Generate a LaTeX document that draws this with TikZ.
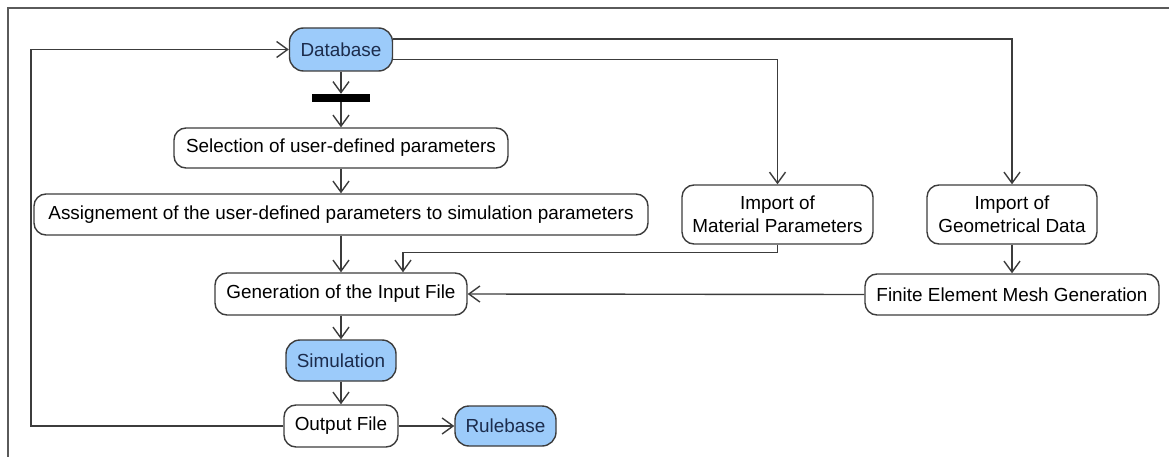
\documentclass[tikz,border=0pt]{standalone}
\usepackage{fontspec}
\setmainfont{Liberation Sans}
\usetikzlibrary{arrows.meta}
\definecolor{edge}{HTML}{3C3C3C}
\definecolor{bluefill}{HTML}{9CCBFA}
\definecolor{navytext}{HTML}{1C2C4C}
\definecolor{framecol}{HTML}{5A5A5A}
\tikzset{
  x=1pt, y=-1pt,
  act/.style={draw=edge, line width=1.4pt, rounded corners=12pt, fill=white,
    inner sep=0pt, align=center, font=\fontsize{18.9}{23.5}\selectfont},
  store/.style={act, fill=bluefill, text=navytext, rounded corners=14pt},
  forkbar/.style={fill=black, draw=none, inner sep=0pt, minimum width=58pt, minimum height=8pt},
  flow/.style={draw=edge, line width=1.4pt,
    -{Straight Barb[length=11pt, width=16pt, line width=1.4pt]}},
  wire/.style={draw=edge, line width=1.4pt}
}
\begin{document}
\begin{tikzpicture}
\useasboundingbox (0,0) rectangle (1169,457);
% outer frame
\draw[framecol, line width=2pt] (8,457) -- (8,8) -- (1169,8);

% activity nodes
\node[store, minimum width=103pt, minimum height=43pt] (db) at (341,49.5) {Database};
\node[forkbar] (bar) at (341,98) {};
\node[act, minimum width=334pt, minimum height=40pt] (sel) at (341,148) {Selection of user-defined parameters};
\node[act, minimum width=614pt, minimum height=41pt] (asg) at (341,214.5) {Assignement of the user-defined parameters to simulation parameters};
\node[act, minimum width=252pt, minimum height=42pt] (gen) at (341,294) {Generation of the Input File};
\node[store, minimum width=110pt, minimum height=41pt] (sim) at (341,360.5) {Simulation};
\node[act, minimum width=114pt, minimum height=42pt] (out) at (341,426) {Output File};
\node[store, minimum width=101pt, minimum height=40pt] (rb) at (505.5,426) {Rulebase};
\node[act, minimum width=191pt, minimum height=59pt] (mat) at (777.5,214.5) {Import of\\Material Parameters};
\node[act, minimum width=170pt, minimum height=59pt] (geo) at (1012,214.5) {Import of\\Geometrical Data};
\node[act, minimum width=294pt, minimum height=41pt] (mesh) at (1012,294.5) {Finite Element Mesh Generation};

% bends of the connectors
\coordinate (loop) at (31,426);
\coordinate (matdrop) at (777.5,252.5);

% main chain
\draw[flow] (db.south) -- (bar.north);
\draw[flow] (bar.south) -- (sel.north);
\draw[flow] (sel.south) -- (asg.north);
\draw[flow] (asg.south) -- (gen.north);
\draw[flow] (gen.south) -- (sim.north);
\draw[flow] (sim.south) -- (out.north);
\draw[flow] (out.east) -- (rb.west);

% feedback loop to the database
\draw[flow] (out.west) -- (loop) |- (db.west);

% branches from the database
\draw[flow] ([yshift=10.5pt]db.east) -| (geo.north);
\draw[flow] ([yshift=-10pt]db.east) -| (mat.north);

% inputs to the input file
\draw[wire] (mat.south) -- (matdrop);
\draw[flow] (matdrop) -| ([xshift=62pt]gen.north);
\draw[flow] (geo.south) -- (mesh.north);
\draw[flow] (mesh.west) -- (gen.east);
\end{tikzpicture}
\end{document}
